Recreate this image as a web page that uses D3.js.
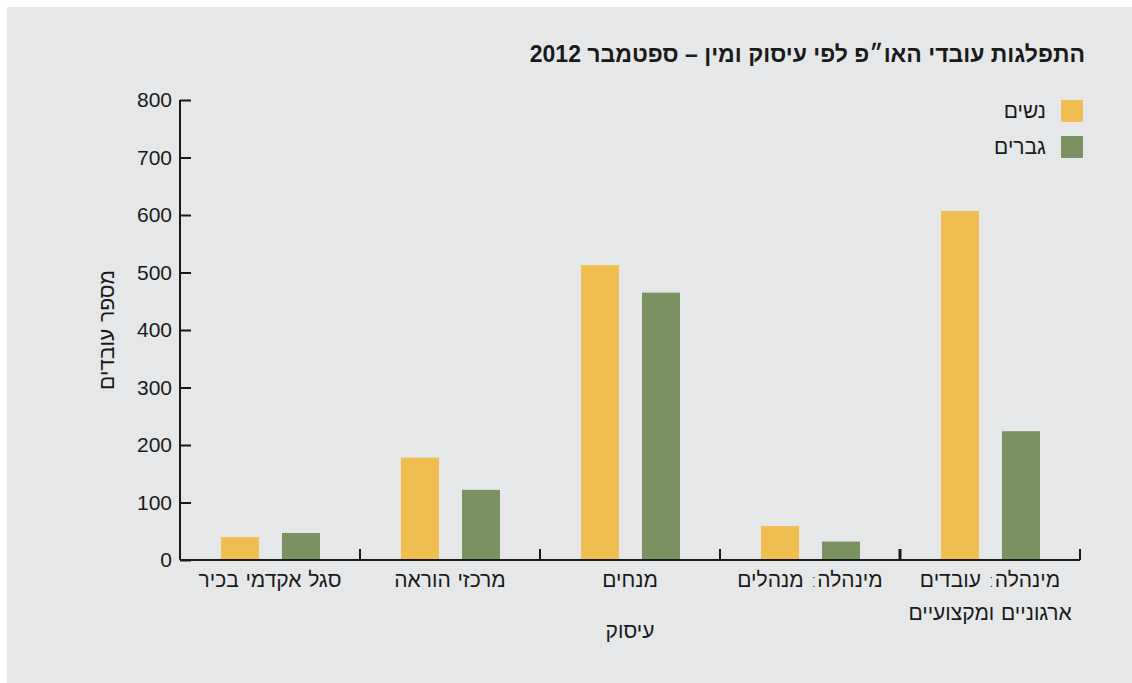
<!DOCTYPE html>
<html>
<head>
<meta charset="utf-8">
<script src="https://cdn.jsdelivr.net/npm/d3@7"></script>
<style>
  body{margin:0;background:#fff;}
  svg{display:block;font-family:"Liberation Sans",Arial,sans-serif;}
</style>
</head>
<body>
<script>
// data
const categories=["סגל אקדמי בכיר","מרכזי הוראה","מנחים","מינהלה: מנהלים","מינהלה: עובדים|ארגוניים ומקצועיים"]
const women=[40,178,513,59,607]
const men=[47,122,465,32,224]
const yTicks=[0,100,200,300,400,500,600,700,800]
const seriesNames=["נשים","גברים"]
const colors=["#f0be50","#7a9262"]

const w=1132, h=683
const svg=d3.select("body").append("svg").attr("width",w).attr("height",h)

// panel
svg.append("rect").attr("x",7).attr("y",7).attr("width",w-7).attr("height",h-7).attr("fill","#e6e7e9")

// title (rtl: anchor start = right edge)
svg.append("text").attr("x",1085).attr("y",62).attr("text-anchor","start").attr("direction","rtl")
  .attr("font-size",23).attr("font-weight","bold").attr("fill","#1a1a1a")
  .text("התפלגות עובדי האו״פ לפי עיסוק ומין – ספטמבר 2012")

// scales
const x0=180, x1=1080, yb=560, yt=100
const xScale=d3.scaleBand().domain(d3.range(categories.length)).range([x0,x1])
const yScale=d3.scaleLinear().domain([0,800]).range([yb,yt])

// bars
const bw=38
const series=[women,men]
series.forEach((vals,s)=>{
  svg.append("g").selectAll("rect").data(vals).enter().append("rect")
    .attr("x",(d,i)=>xScale(i)+xScale.bandwidth()/2+(s==0?-49:12))
    .attr("y",d=>yScale(d))
    .attr("width",bw)
    .attr("height",d=>yb-yScale(d))
    .attr("fill",colors[s])
})

// y axis
const yAxis=d3.axisLeft(yScale).tickValues(yTicks).tickSize(-11).tickPadding(8)
const gy=svg.append("g").attr("transform","translate("+x0+",0)").call(yAxis)
gy.select(".domain").attr("stroke","#1a1a1a").attr("stroke-width",2).attr("d","M0,"+yt+"V"+yb)
gy.selectAll(".tick line").attr("stroke","#1a1a1a").attr("stroke-width",2)
gy.selectAll(".tick text").attr("font-size",21).attr("fill","#1a1a1a").attr("font-family","Liberation Sans, Arial, sans-serif")

// x axis
svg.append("line").attr("x1",x0).attr("x2",x1).attr("y1",yb).attr("y2",yb).attr("stroke","#1a1a1a").attr("stroke-width",2)
svg.append("g").selectAll("line").data(d3.range(1,categories.length+1)).enter().append("line")
  .attr("x1",i=>xScale(i-1)+xScale.bandwidth()).attr("x2",i=>xScale(i-1)+xScale.bandwidth())
  .attr("y1",yb).attr("y2",yb-11)
  .attr("stroke","#1a1a1a").attr("stroke-width",(i)=>i==4?3:2)

// category labels
const cl=svg.append("g")
categories.forEach((c,i)=>{
  const lines=c.split("|")
  lines.forEach((t,k)=>{
    cl.append("text").attr("x",xScale(i)+xScale.bandwidth()/2).attr("y",587+k*33)
      .attr("text-anchor","middle").attr("direction","rtl").attr("font-size",21).attr("fill","#1a1a1a")
      .attr("font-family","DejaVu Sans, sans-serif").attr("font-weight","200")
      .text(t)
  })
})

// axis titles
svg.append("text").attr("x",630).attr("y",638).attr("text-anchor","middle").attr("direction","rtl")
  .attr("font-size",21).attr("fill","#1a1a1a").attr("font-family","DejaVu Sans, sans-serif").attr("font-weight","200").text("עיסוק")
svg.append("text").attr("transform","translate(114,330) rotate(-90)").attr("text-anchor","middle").attr("direction","rtl")
  .attr("font-size",21).attr("fill","#1a1a1a").attr("font-family","DejaVu Sans, sans-serif").attr("font-weight","200").text("מספר עובדים")

// legend
const lg=svg.append("g")
seriesNames.forEach((n,i)=>{
  lg.append("rect").attr("x",1061).attr("y",100+i*36).attr("width",22).attr("height",22).attr("fill",colors[i])
  lg.append("text").attr("x",1046).attr("y",118+i*36).attr("text-anchor","start").attr("direction","rtl")
    .attr("font-size",21).attr("fill","#1a1a1a").attr("font-family","DejaVu Sans, sans-serif").attr("font-weight","200").text(n)
})
</script>
</body>
</html>
